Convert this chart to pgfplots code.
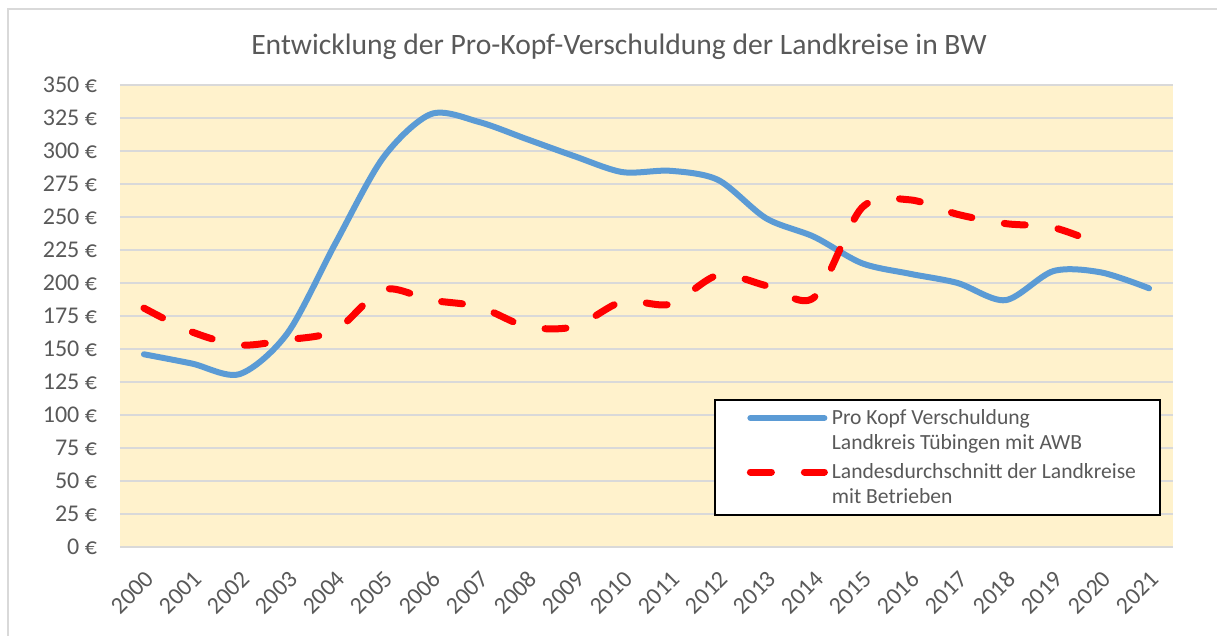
\documentclass[border=0pt]{standalone}
\usepackage{fontspec}
\setmainfont{Carlito}
\usepackage{pgfplots}
\pgfplotsset{compat=1.18}

\definecolor{txtgray}{HTML}{595959}
\definecolor{gridgray}{HTML}{D9D9D9}
\definecolor{bgyellow}{HTML}{FFF2CC}
\definecolor{lineblue}{HTML}{5B9BD5}
\definecolor{linered}{HTML}{FF0000}

% long legend sample, aligned with the first text line
\pgfplotsset{
  longline/.style={legend image code/.code={%
    \path (-6pt,6.25pt);
    \draw[##1] (0pt,6.25pt) -- (37pt,6.25pt);}},
}

\begin{document}
\begin{tikzpicture}
\begin{axis}[
  scale only axis,
  width=526.5pt, height=231pt,
  xmin=1999.5, xmax=2021.5,
  ymin=0, ymax=350,
  xtick={2000,...,2021},
  ytick={0,25,...,350},
  ymajorgrids,
  major grid style={draw=gridgray, line width=0.8pt},
  axis line style={draw=none},
  major tick length=0pt,
  axis background/.style={fill=bgyellow},
  /pgf/number format/assume math mode=true,
  tick label style={font=\fontsize{12}{14}\selectfont, text=txtgray},
  x tick label style={/pgf/number format/1000 sep=, xshift=3pt, yshift=-14pt,
    rotate=45, anchor=east, inner sep=0pt},
  yticklabel={\pgfmathprintnumber{\tick} €},
  y tick label style={xshift=-8pt},
  legend style={at={(0.564,0.3203)}, anchor=north west, draw=black, line width=1pt,
    fill=white, font=\fontsize{10.8}{12.5}\selectfont, text=txtgray,
    inner xsep=10pt, inner ysep=2.5pt, row sep=1.5pt, cells={align=left}},
  legend cell align=left,
  longline,
]
\addplot[lineblue, line width=3pt, smooth, line cap=round]
  coordinates {
  (2000,146) (2001,139) (2002,131) (2003,162) (2004,230) (2005,295)
  (2006,328) (2007,322) (2008,309) (2009,296) (2010,284) (2011,285)
  (2012,278) (2013,249) (2014,235) (2015,215) (2016,207) (2017,200)
  (2018,187) (2019,209) (2020,208) (2021,196)
};
\addlegendentry{{Pro Kopf Verschuldung\\Landkreis Tübingen mit AWB}}
\addplot[linered, line width=3.5pt, smooth, line cap=round, dash pattern=on 10.5pt off 16.5pt]
  coordinates {
  (2000,181) (2001,163) (2002,153) (2003,157) (2004,164) (2005,195)
  (2006,187) (2007,182) (2008,167) (2009,167) (2010,186) (2011,184)
  (2012,206) (2013,198) (2014,189) (2015,257) (2016,263) (2017,252)
  (2018,245) (2019,242) (2020,229)
};
\addlegendentry{{Landesdurchschnitt der Landkreise\\mit Betrieben}}
\end{axis}
\node[font=\fontsize{14.8}{17}\selectfont, text=txtgray] at (249.5pt,250pt)
  {Entwicklung der Pro-Kopf-Verschuldung der Landkreise in BW};
\draw[gridgray, line width=1pt] (-56pt,-44.5pt) -- (-56pt,268.75pt) -- (548.5pt,268.75pt);
\pgfresetboundingbox
\path[use as bounding box] (-60pt,-44.5pt) rectangle (548.5pt,273.5pt);
\end{tikzpicture}
\end{document}
